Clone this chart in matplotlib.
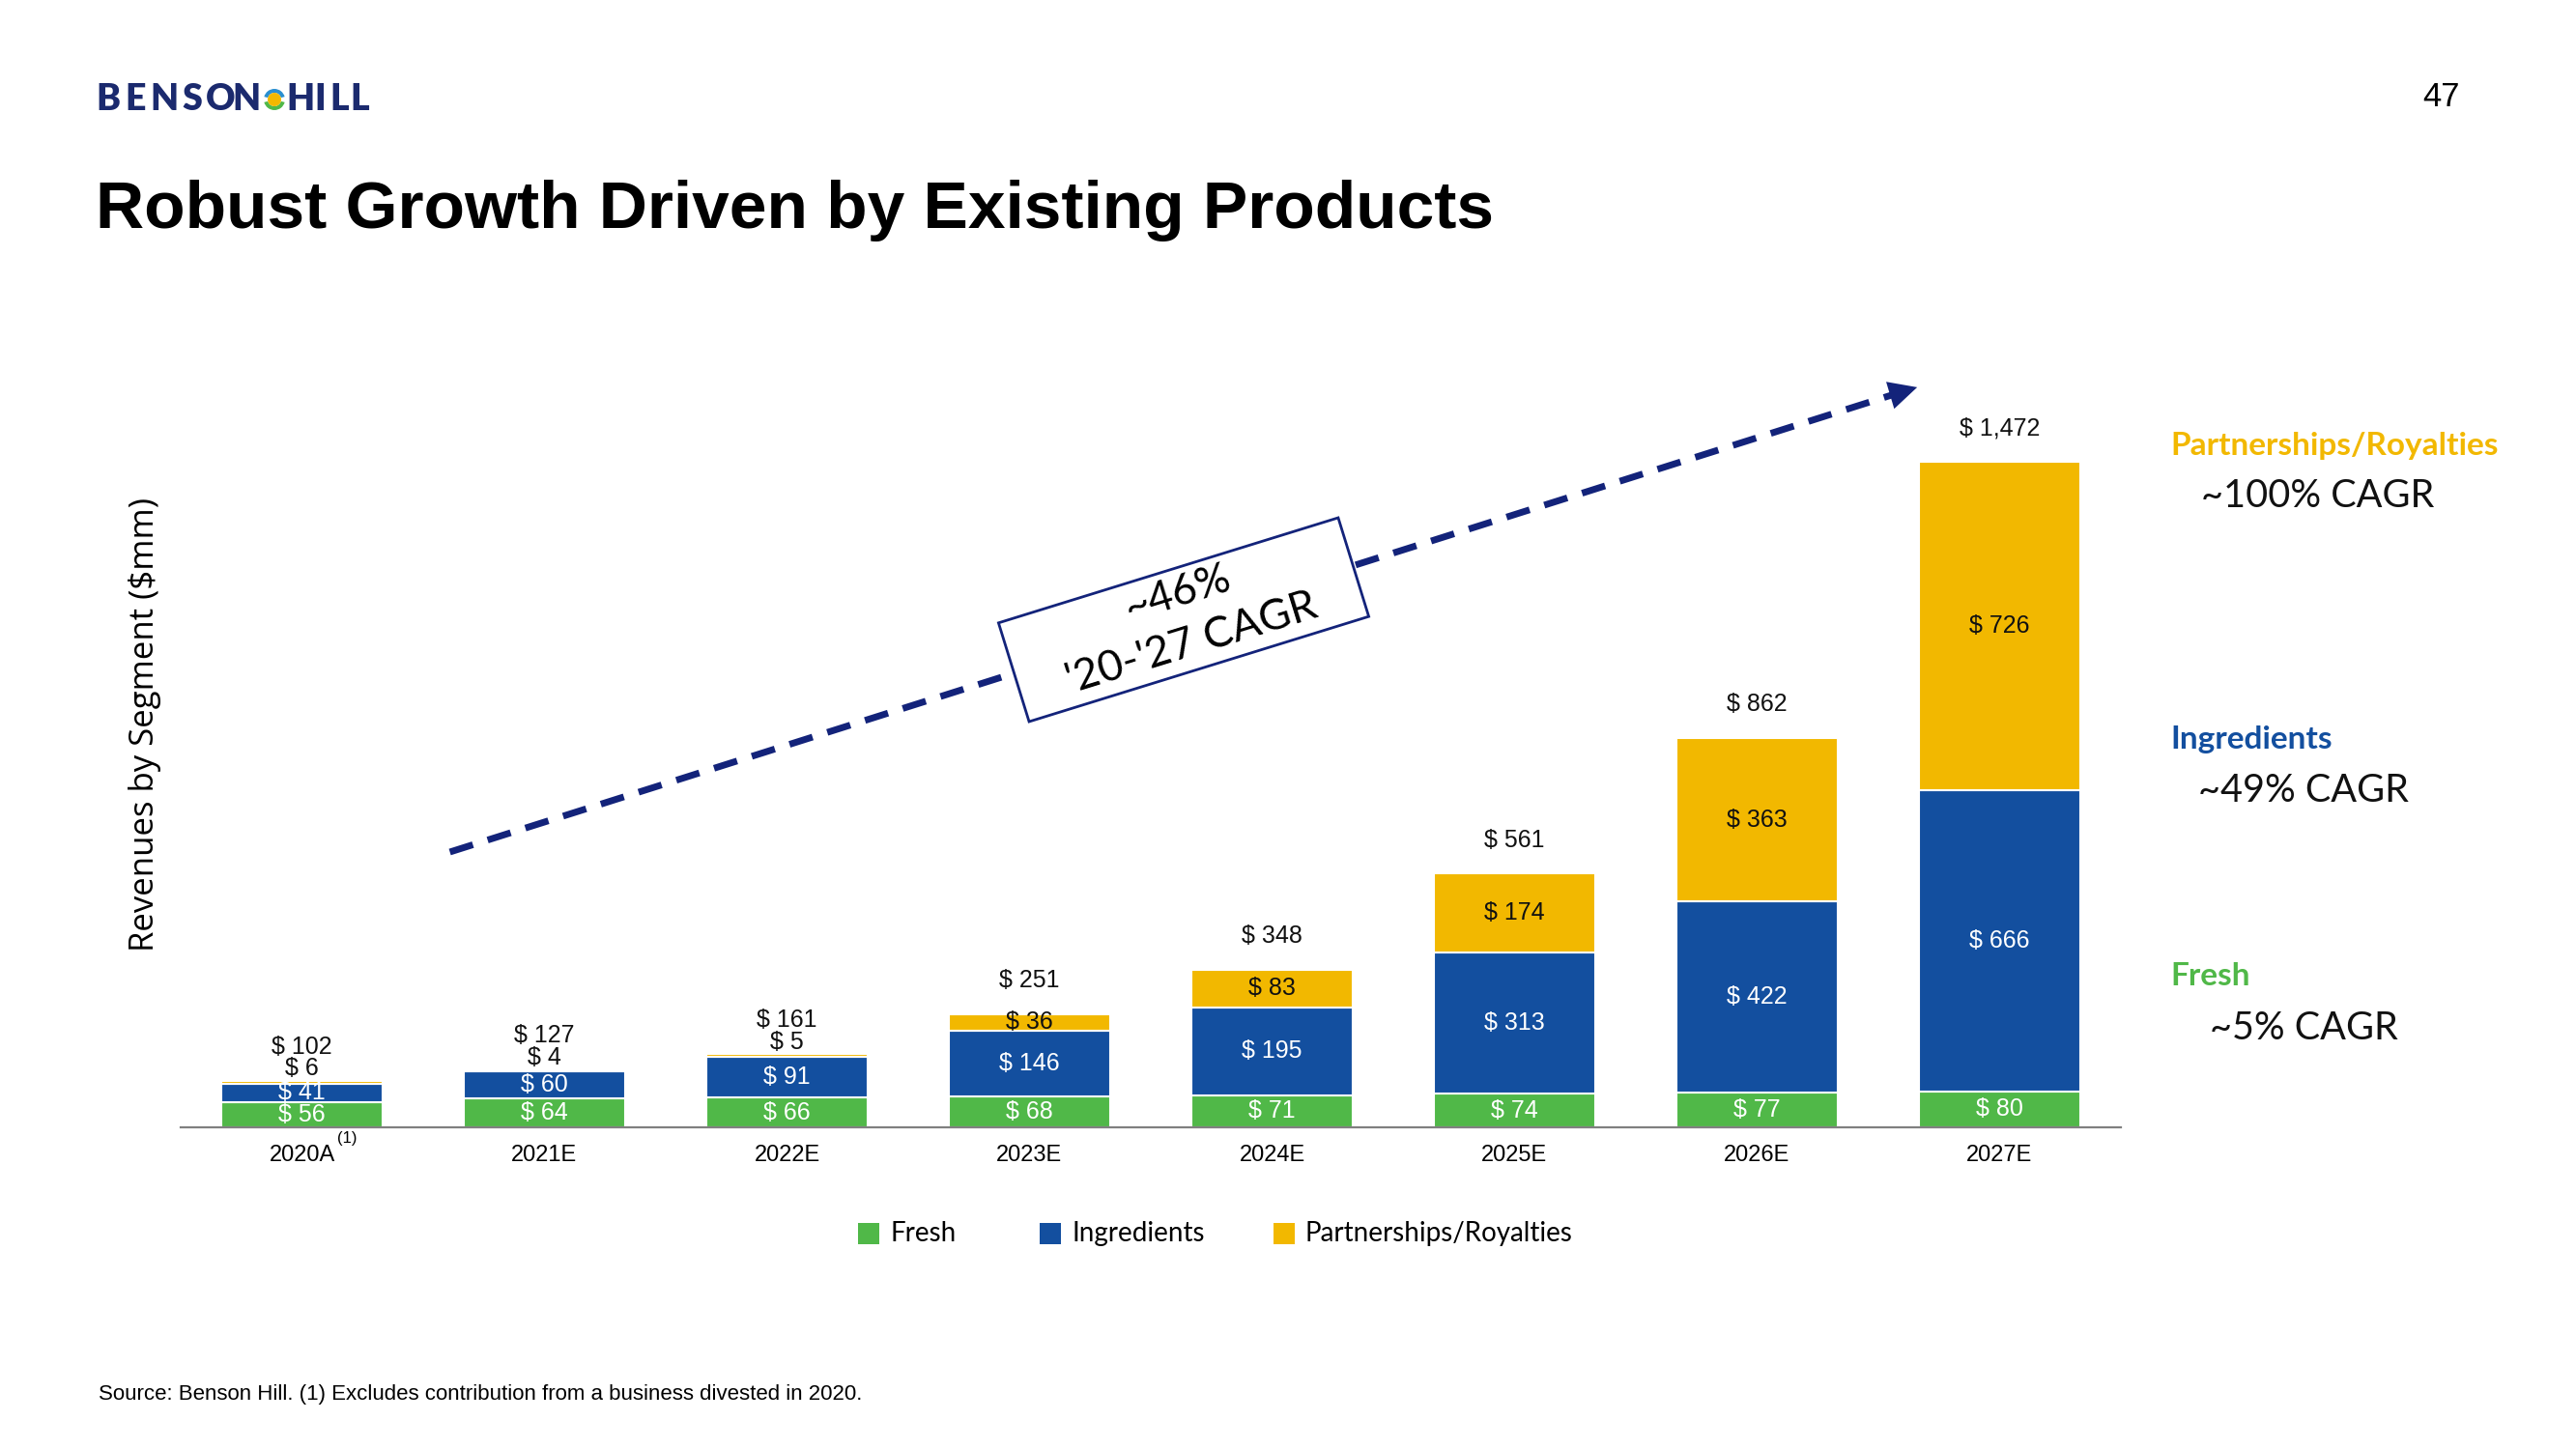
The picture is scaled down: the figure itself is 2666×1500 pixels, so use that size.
import matplotlib
matplotlib.use('Agg')
import matplotlib.pyplot as plt
from matplotlib.patches import Rectangle, Circle, Wedge
from matplotlib.transforms import Affine2D

# chart data ($mm)
years = ['2020A', '2021E', '2022E', '2023E', '2024E', '2025E', '2026E', '2027E']
fresh = [56, 64, 66, 68, 71, 74, 77, 80]
ingredients = [41, 60, 91, 146, 195, 313, 422, 666]
partnerships = [6, 4, 5, 36, 83, 174, 363, 726]
totals = [102, 127, 161, 251, 348, 561, 862, 1472]

segments = ['Fresh', 'Ingredients', 'Partnerships/Royalties']
segment_cagr = ['~5% CAGR', '~49% CAGR', '~100% CAGR']

GREEN = '#50b848'
BLUE = '#134f9f'
GOLD = '#f2b800'
NAVY = '#13237a'
LOGO = '#1b2a6e'

W, H = 2666, 1500
LABEL_FONT = ['Liberation Sans Narrow', 'Liberation Sans']
SANS = ['Lato', 'DejaVu Sans']

fig = plt.figure(figsize=(W / 100, H / 100), dpi=100)
fig.patch.set_facecolor('white')


def fx(x):
    return x / W


def fy(y):
    return 1 - y / H


# pixel transform (y up), identity at dpi 100
px = Affine2D().scale(1 / W, 1 / H) + fig.transFigure

ax = fig.add_axes([fx(187), fy(1167), fx(2195) - fx(187), 1700 * 0.468 / H])
ax.set_xlim(-0.5, 7.5)
ax.set_ylim(0, 1700)

x = list(range(len(years)))
bw = 0.666
bottom_ing = fresh
bottom_par = [f + i for f, i in zip(fresh, ingredients)]
tops = [b + p for b, p in zip(bottom_par, partnerships)]

ax.bar(x, fresh, width=bw, color=GREEN, edgecolor='white', linewidth=1.5, zorder=2)
ax.bar(x, ingredients, width=bw, bottom=bottom_ing, color=BLUE, edgecolor='white', linewidth=1.5, zorder=2)
ax.bar(x, partnerships, width=bw, bottom=bottom_par, color=GOLD, edgecolor='white', linewidth=1.5, zorder=2)

# value labels
lfs = 18
for i in x:
    ax.text(i, fresh[i] / 2, f'$ {fresh[i]}', ha='center', va='center', color='white',
            fontsize=lfs, family=LABEL_FONT, zorder=3)
    ax.text(i, bottom_ing[i] + ingredients[i] / 2, f'$ {ingredients[i]}', ha='center', va='center',
            color='white', fontsize=lfs, family=LABEL_FONT, zorder=3)
    if partnerships[i] < 20:
        ax.annotate(f'$ {partnerships[i]}', xy=(i, tops[i]), xytext=(0, 9), textcoords='offset points',
                    ha='center', va='center', color='#111111', fontsize=lfs, family=LABEL_FONT, zorder=3)
    else:
        ax.text(i, bottom_par[i] + partnerships[i] / 2, f'$ {partnerships[i]}', ha='center', va='center',
                color='#111111', fontsize=lfs, family=LABEL_FONT, zorder=3)
    ax.annotate(f'$ {totals[i]:,}', xy=(i, tops[i]), xytext=(0, 25), textcoords='offset points',
                ha='center', va='center', color='#111111', fontsize=lfs, family=LABEL_FONT, zorder=3)

for s in ['top', 'right', 'left']:
    ax.spines[s].set_visible(False)
ax.spines['bottom'].set_color('#808080')
ax.spines['bottom'].set_linewidth(1.6)
ax.set_yticks([])
ax.set_xticks(x)
ax.set_xticklabels(years, fontsize=17, family=LABEL_FONT)
ax.tick_params(axis='x', length=0, pad=13)
ax.annotate('(1)', xy=(0, 0), xytext=(34, -8), textcoords='offset points', ha='center', va='center',
            fontsize=12, family=LABEL_FONT, annotation_clip=False)

# overall CAGR arrow
ax.plot([0.61, 6.58], [609, 1624], color=NAVY, lw=5, linestyle=(0, (3.6, 2.3)),
        solid_capstyle='butt', clip_on=False, zorder=1)
ax.annotate('', xy=(6.66, 1637), xytext=(6.56, 1621),
            arrowprops=dict(arrowstyle='-|>,head_length=0.7,head_width=0.35', mutation_scale=30,
                            color=NAVY, lw=0, shrinkA=0, shrinkB=0), annotation_clip=False)

cx, cy, ang = 1225, H - 641.5, 17.2
box = Rectangle((cx - 184, cy - 53.5), 368, 107, angle=ang, rotation_point='center',
                facecolor='white', edgecolor=NAVY, linewidth=2, transform=px, zorder=5)
fig.add_artist(box)
fig.text(fx(1219), fy(614), '~46%', rotation=ang, rotation_mode='anchor', ha='center', va='center',
         fontsize=32, family=SANS, zorder=6)
fig.text(fx(1233), fy(666), "'20-'27 CAGR", rotation=ang, rotation_mode='anchor', ha='center', va='center',
         fontsize=32, family=SANS, zorder=6)

# legend
leg_colors = [GREEN, BLUE, GOLD]
leg_x = [888, 1076, 1318]
for lbl, col, lx in zip(segments, leg_colors, leg_x):
    fig.add_artist(Rectangle((lx, H - 1277 - 11), 22, 22, facecolor=col, edgecolor='none', transform=px))
    fig.text(fx(lx + 33), fy(1277), lbl, ha='left', va='center', fontsize=20, family=SANS)

# segment CAGR notes
notes = [(segments[2], segment_cagr[2], GOLD, 461, 513, 2278),
         (segments[1], segment_cagr[1], BLUE, 765, 818, 2275),
         (segments[0], segment_cagr[0], GREEN, 1010, 1064, 2287)]
for name, cagr, col, y1, y2, x2 in notes:
    fig.text(fx(2246), fy(y1), name, ha='left', va='center', fontsize=24, fontweight='bold',
             color=col, family=SANS)
    fig.text(fx(x2), fy(y2), cagr, ha='left', va='center', fontsize=28.5, color='#111111', family=SANS)

# y label
fig.text(fx(150), fy(750), 'Revenues by Segment ($mm)', rotation=90, ha='center', va='center',
         fontsize=25, family=['Open Sans', 'DejaVu Sans'])

# header
fig.text(fx(99), fy(218), 'Robust Growth Driven by Existing Products', ha='left', va='center',
         fontsize=50, fontweight='bold', family='Liberation Sans')
fig.text(fx(2527), fy(100), '47', ha='center', va='center', fontsize=25, family='Liberation Sans')

# logo: letters spaced out like the wordmark
for ch, cxl in zip('BENSON', [112, 140, 170, 199, 228, 255]):
    fig.text(fx(cxl), fy(103), ch, ha='center', va='center', fontsize=27, fontweight='heavy',
             color=LOGO, family=SANS)
for ch, cxl in zip('HILL', [311, 331, 351, 372]):
    fig.text(fx(cxl), fy(103), ch, ha='center', va='center', fontsize=27, fontweight='heavy',
             color=LOGO, family=SANS)
fig.add_artist(Wedge((284, H - 103), 11, 15, 165, width=4, facecolor='#2a8fd0', transform=px))
fig.add_artist(Wedge((284, H - 103), 11, 195, 345, width=4, facecolor=GREEN, transform=px))
fig.add_artist(Circle((284, H - 103), 7, facecolor='#f2b800', transform=px))

# footnote
fig.text(fx(102), fy(1444), 'Source: Benson Hill. (1) Excludes contribution from a business divested in 2020.',
         ha='left', va='center', fontsize=16, family=LABEL_FONT)

fig.savefig('out.png', dpi=100, facecolor='white')
